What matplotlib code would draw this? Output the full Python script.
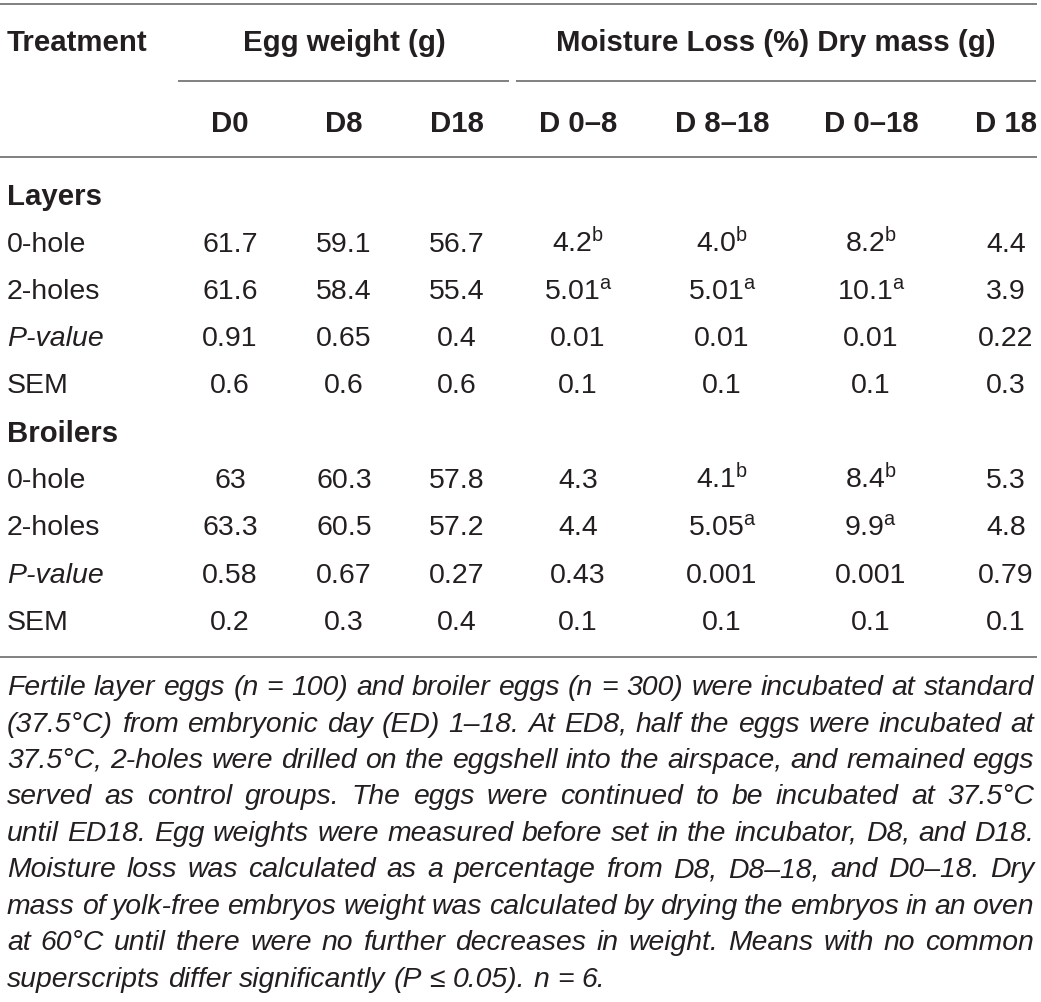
import matplotlib
matplotlib.use("Agg")
import matplotlib.pyplot as plt

plt.rcParams['font.family'] = ['Liberation Sans', 'DejaVu Sans']
plt.rcParams['mathtext.fontset'] = 'custom'
plt.rcParams['mathtext.rm'] = 'Liberation Sans'
plt.rcParams['mathtext.it'] = 'Liberation Sans:italic'

# --- table content ---
group_headers = ["Egg weight (g)", "Moisture Loss (%) Dry mass (g)"]
sub_headers = ["D0", "D8", "D18", "D 0–8", "D 8–18", "D 0–18", "D 18"]
row_labels = ["0-hole", "2-holes", "P-value", "SEM"]

layers_vals = [
    ["61.7", "59.1", "56.7", "4.2", "4.0", "8.2", "4.4"],
    ["61.6", "58.4", "55.4", "5.01", "5.01", "10.1", "3.9"],
    ["0.91", "0.65", "0.4", "0.01", "0.01", "0.01", "0.22"],
    ["0.6", "0.6", "0.6", "0.1", "0.1", "0.1", "0.3"],
]
layers_sups = [
    ["", "", "", "b", "b", "b", ""],
    ["", "", "", "a", "a", "a", ""],
    [""] * 7,
    [""] * 7,
]
broilers_vals = [
    ["63", "60.3", "57.8", "4.3", "4.1", "8.4", "5.3"],
    ["63.3", "60.5", "57.2", "4.4", "5.05", "9.9", "4.8"],
    ["0.58", "0.67", "0.27", "0.43", "0.001", "0.001", "0.79"],
    ["0.2", "0.3", "0.4", "0.1", "0.1", "0.1", "0.1"],
]
broilers_sups = [
    ["", "", "", "", "b", "b", ""],
    ["", "", "", "", "a", "a", ""],
    [""] * 7,
    [""] * 7,
]

caption_lines = [
    "Fertile layer eggs (n = 100) and broiler eggs (n = 300) were incubated at standard",
    "(37.5°C) from embryonic day (ED) 1–18. At ED8, half the eggs were incubated at",
    "37.5°C, 2-holes were drilled on the eggshell into the airspace, and remained eggs",
    "served as control groups. The eggs were continued to be incubated at 37.5°C",
    "until ED18. Egg weights were measured before set in the incubator, D8, and D18.",
    "Moisture loss was calculated as a percentage from D8, D8–18, and D0–18. Dry",
    "mass of yolk-free embryos weight was calculated by drying the embryos in an oven",
    "at 60°C until there were no further decreases in weight. Means with no common",
    "superscripts differ significantly (P ≤ 0.05). n = 6.",
]

# --- layout (pixels) ---
W, H = 1041, 1003
col_x = [230, 344, 457, 578, 722, 871, 1006]
group_x = [344, 776]
left = 7
right = 1034
row_y_layers = [242, 289, 336, 383]
row_y_broilers = [478, 525, 573, 620]
table_fs = 20.5
head_fs = 21.2
cap_fs = 20.4
txt_col = "#231f20"
rule_col = "#808080"
base_off = 10

fig = plt.figure(figsize=(W / 100, H / 100), dpi=100)
ax = fig.add_axes([0, 0, 1, 1])
ax.set_xlim(0, W)
ax.set_ylim(H, 0)
ax.axis("off")

def rule(x0, x1, y):
    ax.plot([x0, x1], [y, y], color=rule_col, lw=1.4, solid_capstyle="butt")

rule(0, 1037, 5)
rule(178, 509, 82)
rule(516, 1036, 82)
rule(0, 1037, 158)
rule(0, 1037, 658)

# headers
ax.text(left, 41 + base_off, "Treatment", fontsize=head_fs, fontweight="bold",
        color=txt_col, va="baseline", ha="left")
for gx, g in zip(group_x, group_headers):
    ax.text(gx, 41 + base_off, g, fontsize=head_fs, fontweight="bold",
            color=txt_col, va="baseline", ha="center")
for cx, s in zip(col_x, sub_headers):
    ax.text(cx, 122 + base_off, s, fontsize=head_fs, fontweight="bold",
            color=txt_col, va="baseline", ha="center")

def draw_block(title, title_y, ys, vals, sups):
    ax.text(left, title_y + base_off, title, fontsize=head_fs, fontweight="bold",
            color=txt_col, va="baseline", ha="left")
    for y, lab, rv, rs in zip(ys, row_labels, vals, sups):
        style = "italic" if lab == "P-value" else "normal"
        ax.text(left, y + base_off, lab, fontsize=table_fs, style=style,
                color=txt_col, va="baseline", ha="left")
        for cx, v, s in zip(col_x, rv, rs):
            t = v + (r"$^{\mathrm{%s}}$" % s if s else "")
            ax.text(cx, y + base_off, t, fontsize=table_fs, color=txt_col,
                    va="baseline", ha="center")

draw_block("Layers", 195, row_y_layers, layers_vals, layers_sups)
draw_block("Broilers", 432, row_y_broilers, broilers_vals, broilers_sups)

# caption, justified
renderer = fig.canvas.get_renderer()

def width_of(s):
    t = ax.text(0, 0, s, fontsize=cap_fs, style="italic")
    w = t.get_window_extent(renderer).width
    t.remove()
    return w

space_w = width_of("x x") - width_of("xx")
cap_y0, cap_dy = 686, 36.5
for i, line in enumerate(caption_lines):
    words = line.split(" ")
    y = cap_y0 + i * cap_dy + 9
    widths = [width_of(w) for w in words]
    last = i == len(caption_lines) - 1
    gap = space_w if last else (right - left - sum(widths)) / (len(words) - 1)
    x = left
    for w, ww in zip(words, widths):
        ax.text(x, y, w, fontsize=cap_fs, style="italic", color=txt_col,
                va="baseline", ha="left")
        x += ww + gap

fig.savefig("out.png", dpi=100)
